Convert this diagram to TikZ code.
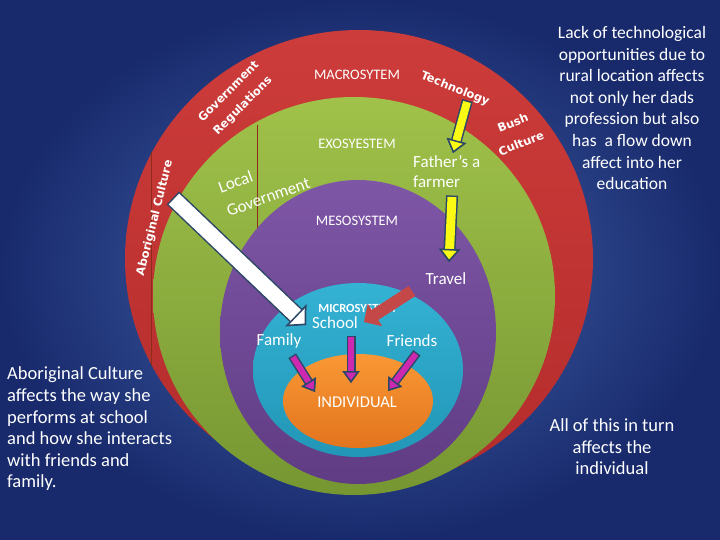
\documentclass[tikz,border=0pt]{standalone}
\usepackage{fontspec}
\setmainfont{Carlito}
\newfontfamily\artfont{DejaVu Sans}
\usepackage{xcolor}
\usepackage{tikz}
\usetikzlibrary{arrows.meta}

\definecolor{bgin}{RGB}{70,104,176}
\definecolor{bgout}{RGB}{24,42,108}
\definecolor{redtop}{RGB}{204,60,58}
\definecolor{redbot}{RGB}{180,44,44}
\definecolor{grntop}{RGB}{160,194,74}
\definecolor{grnbot}{RGB}{118,150,50}
\definecolor{purtop}{RGB}{126,86,166}
\definecolor{purbot}{RGB}{96,60,132}
\definecolor{cyntop}{RGB}{52,178,212}
\definecolor{cynbot}{RGB}{34,150,182}
\definecolor{orgtop}{RGB}{250,152,52}
\definecolor{orgbot}{RGB}{226,116,30}
\definecolor{rule}{RGB}{140,45,25}
\definecolor{outl}{RGB}{44,72,102}
\definecolor{ylw}{RGB}{250,250,20}
\definecolor{mag}{RGB}{204,40,176}
\definecolor{redarr}{RGB}{196,72,72}

\begin{document}
\begin{tikzpicture}[x=1pt, y=-1pt,
    every node/.style={text=white, inner sep=0pt},
    sys/.style={font=\fontsize{14.5}{16}\selectfont},
    lbl/.style={font=\fontsize{17}{20}\selectfont},
    art/.style={font=\artfont\bfseries\fontsize{11.5}{20}\selectfont},
    note/.style={font=\fontsize{17.5}{21.6}\selectfont},
    barrow/.style n args={5}{draw=#1, line width=#2,
        -{Triangle[length=#5, width=#4, color=outl, fill=#1, line width=1.5pt]},
        preaction={draw=outl, line width=#3, shorten <=-1.5pt,
        -{Triangle[length=#5, width=#4, color=outl, fill=outl, line width=1.5pt]}}}]
    \useasboundingbox (0,0) rectangle (720,540);
    \shade[inner color=bgin, outer color=bgout] (0,0) rectangle (720,540);

    % the five systems
    \shade[top color=redtop, bottom color=redbot] (359,259) ellipse [x radius=234pt, y radius=229pt];
    \shade[top color=grntop, bottom color=grnbot] (354,296) ellipse [x radius=201pt, y radius=199pt];
    \shade[top color=purtop, bottom color=purbot] (358,332) ellipse [x radius=138pt, y radius=152pt];
    \shade[top color=cyntop, bottom color=cynbot] (358,370) ellipse [x radius=105pt, y radius=87pt];
    \shade[top color=orgtop, bottom color=orgbot] (358,401) ellipse [x radius=75pt, y radius=47pt];

    \draw[rule, line width=0.8pt] (151,152) -- (151,366);
    \draw[rule, line width=0.8pt] (257,125) -- (257,228);

    \node[sys] (macro) at (357,75) {MACROSYTEM};
    \node[sys] (exo) at (357,144) {EXOSYESTEM};
    \node[sys] (meso) at (357,221) {MESOSYSTEM};
    \node[font=\bfseries\fontsize{12.5}{14}\selectfont] (micro) at (357,308) {MICROSYSTEM};

    \node[art, rotate=45, align=center] (govregs) at (236,99) {Government\\Regulations};
    \node[art, rotate=76] (aborig) at (155,218) {Aboriginal Culture};
    \node[art, rotate=-22] (tech) at (455,89) {Technology};
    \node[art, rotate=22, align=center, font=\artfont\bfseries\fontsize{11.5}{22}\selectfont] (bush) at (517,133) {Bush\\Culture};

    \node[lbl, rotate=19.5, align=left, font=\fontsize{17}{25}\selectfont] (localgov) at (264,185) {Local\\Government};
    \node[lbl, align=left, anchor=west] (farmer) at (413,172) {Father’s a\\farmer};
    \node[lbl] (travel) at (446,279) {Travel};
    \node[lbl] (school) at (335,323) {School};
    \node[lbl] (family) at (279,341) {Family};
    \node[lbl] (friends) at (412,341) {Friends};
    \node[lbl, font=\fontsize{16.5}{20}\selectfont] (indiv) at (357,402) {INDIVIDUAL};

    % arrow ends
    \coordinate (techtail) at (467,102);
    \coordinate (farmtip) at (453,153);
    \coordinate (farmtail) at (452,197);
    \coordinate (traveltip) at (449,262);
    \coordinate (aborigtail) at (174,199);
    \coordinate (schooltip) at (306,325);
    \coordinate (traveltail) at (412,291);
    \coordinate (microtip) at (364,322);
    \coordinate (famtail) at (293,357);
    \coordinate (famtip) at (315,392);
    \coordinate (schtail) at (351,337);
    \coordinate (schtip) at (351,383);
    \coordinate (fritail) at (416,354);
    \coordinate (fritip) at (388,391);

    \draw[barrow={ylw}{8pt}{11pt}{20pt}{13pt}] (techtail) -- (farmtip);
    \draw[barrow={ylw}{9pt}{12pt}{21pt}{13pt}] (farmtail) -- (traveltip);
    \draw[barrow={white}{15pt}{18pt}{30pt}{14pt}] (aborigtail) -- (schooltip);
    \draw[redarr, line width=12pt, -{Triangle[length=13pt, width=26pt]}] (traveltail) -- (microtip);
    \draw[barrow={mag}{6pt}{9pt}{17pt}{12pt}] (famtail) -- (famtip);
    \draw[barrow={mag}{6pt}{9pt}{17pt}{12pt}] (schtail) -- (schtip);
    \draw[barrow={mag}{6pt}{9pt}{17pt}{12pt}] (fritail) -- (fritip);

    % side notes
    \node[note, align=center] (lack) at (632,108) {Lack of technological\\opportunities due to\\rural location affects\\not only her dads\\profession but also\\has\ \ a flow down\\affect into her\\education};
    \node[note, font=\fontsize{18.5}{21.6}\selectfont, align=left, anchor=west] (aborignote) at (7,429) {Aboriginal Culture\\affects the way she\\performs at school\\and how she interacts\\with friends and\\family.};
    \node[note, font=\fontsize{18.5}{21.6}\selectfont, align=center] (allnote) at (612,447) {All of this in turn\\affects the\\individual};
\end{tikzpicture}
\end{document}
